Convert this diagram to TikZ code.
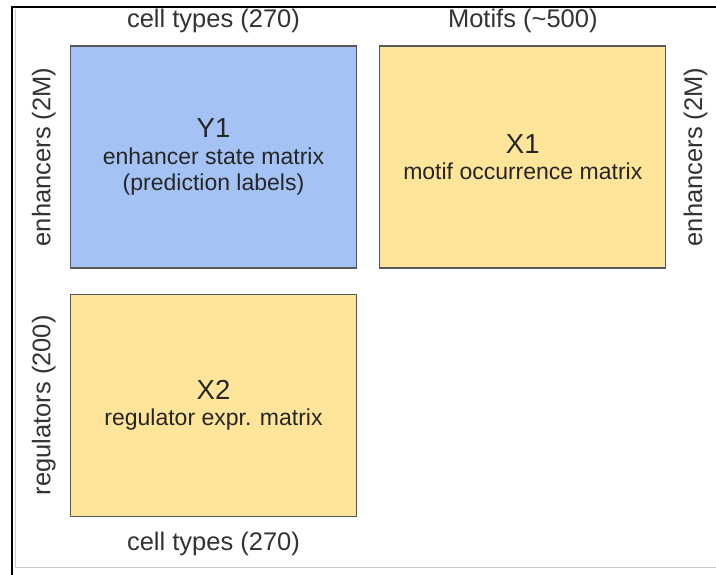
\documentclass[tikz,border=0pt]{standalone}
\usepackage{fontspec}
\setmainfont{Liberation Sans}
\usetikzlibrary{positioning}
\definecolor{cellblue}{HTML}{A4C2F4}
\definecolor{motifyellow}{HTML}{FFE599}
\definecolor{boxedge}{HTML}{595959}
\definecolor{framegray}{HTML}{CCCCCC}

\begin{document}
\begin{tikzpicture}[x=1pt,y=-1pt,
    matbox/.style={draw=boxedge, line width=1.3pt, minimum width=286pt, minimum height=222pt,
        align=center, inner sep=0pt, text=black!85, font=\fontsize{23}{26.5}\selectfont},
    dimlabel/.style={text=black!80, font=\fontsize{25.5}{30}\selectfont, inner sep=0pt}]
    \useasboundingbox (0,0) rectangle (716,575);

    % frame
    \draw[framegray, line width=1pt] (15,9) -- (15,567.5) -- (716,567.5);
    \draw[black, line width=2pt] (12,575) -- (12,7) -- (716,7);

    % matrices
    \node[matbox, fill=cellblue] (y1) at (213.5,157)
        {{\fontsize{27.5}{30}\selectfont Y1}\\enhancer state matrix\\(prediction labels)};
    \node[matbox, fill=motifyellow, right=22pt of y1] (x1)
        {{\fontsize{27.5}{30}\selectfont X1}\\motif occurrence matrix};
    \node[matbox, fill=motifyellow, below=25pt of y1] (x2)
        {{\fontsize{27.5}{30}\selectfont X2}\\regulator expr. matrix};

    % dimensions
    \node[dimlabel, above=12pt of y1] (celltop) {cell types (270)};
    \node[dimlabel, above=12pt of x1] (motiftop) {Motifs (\textasciitilde500)};
    \node[dimlabel, below=15pt of x2] (cellbottom) {cell types (270)};
    \node[dimlabel, rotate=90, anchor=south] (enhleft) at ([xshift=-14pt]y1.west) {enhancers (2M)};
    \node[dimlabel, rotate=90, anchor=north] (enhright) at ([xshift=17pt]x1.east) {enhancers (2M)};
    \node[dimlabel, rotate=90, anchor=south] (regleft) at ([xshift=-14pt]x2.west) {regulators (200)};
\end{tikzpicture}
\end{document}
